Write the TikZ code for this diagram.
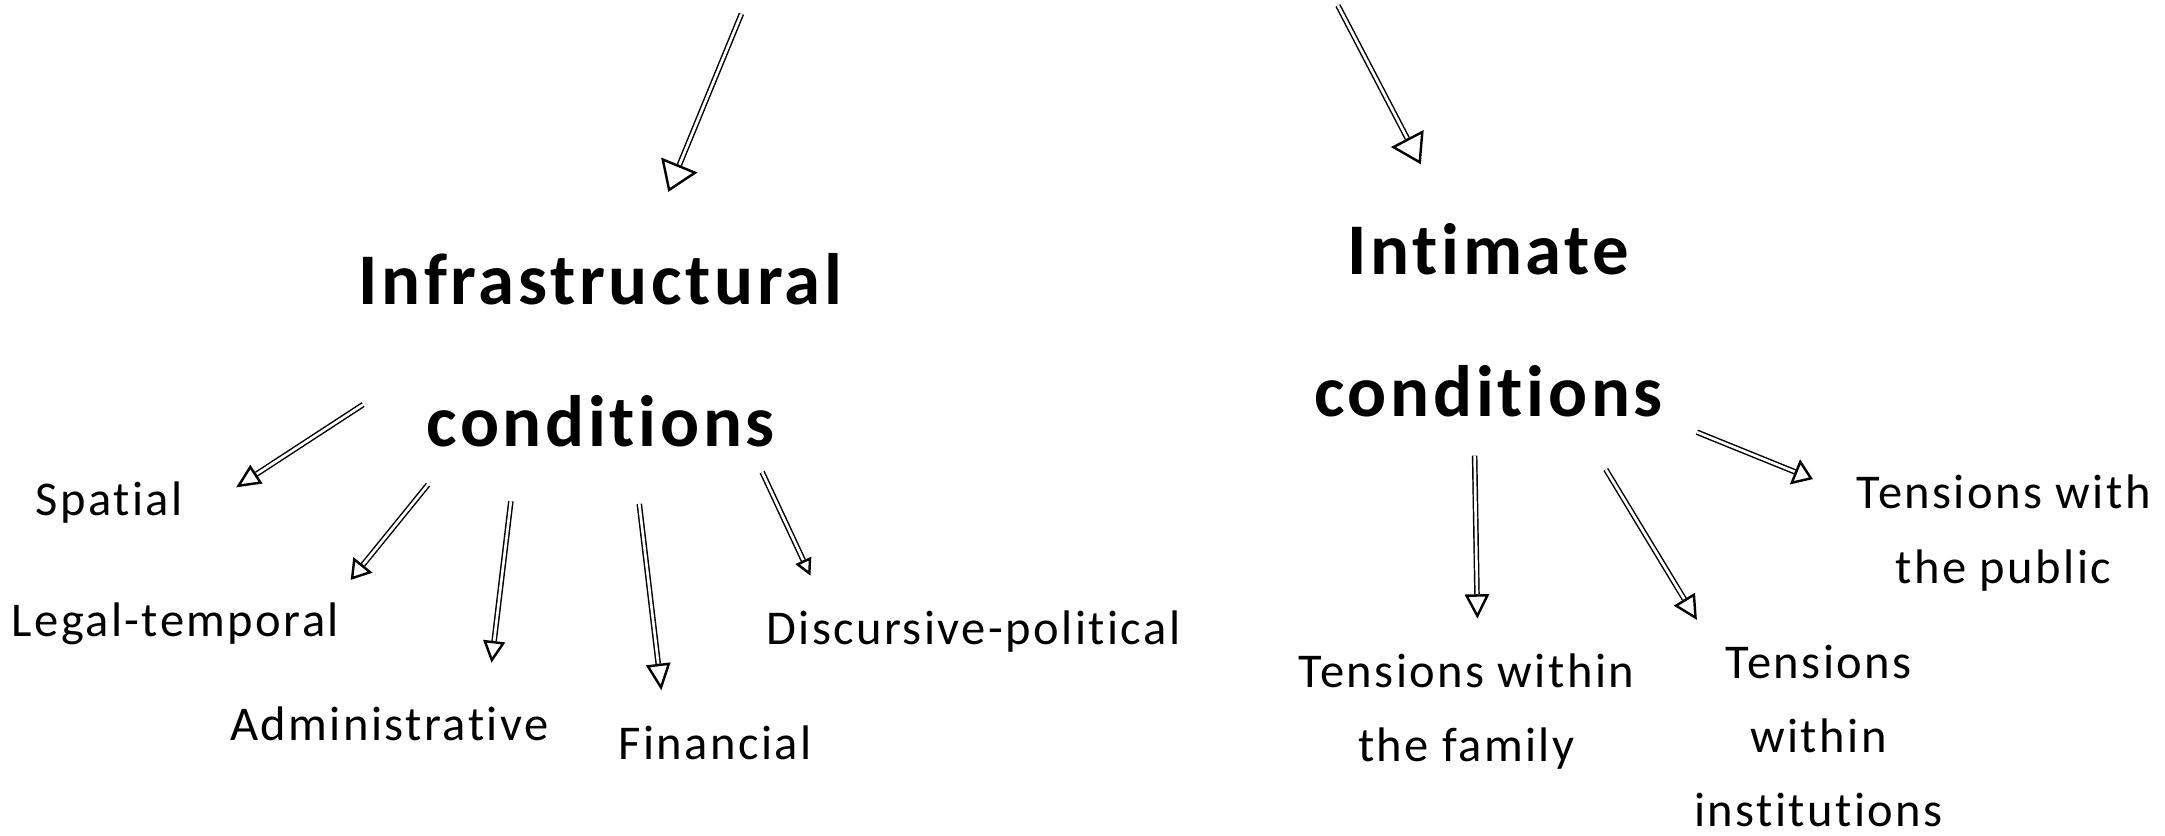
\documentclass[tikz,border=0pt]{standalone}
\usepackage{fontspec}
\setmainfont{Carlito}[LetterSpace=5, Ligatures={NoCommon,NoRequired,NoContextual}]
\usetikzlibrary{arrows.meta,calc}
\newcommand\handarrow[4]{%
  \draw[shaft] (#1) -- ($(#2)!#3!(#1)$);
  \draw[headline, -{Triangle[open, length=#3, width=#4]}] ($(#2)!#3!(#1)$) -- (#2);}
\begin{document}
\begin{tikzpicture}[x=0.1mm,y=-0.1mm,
  big/.style={font=\bfseries\fontsize{15}{29.2}\selectfont, align=center, inner sep=0pt, anchor=base},
  small/.style={font=\fontsize{10}{15.3}\selectfont, align=center, inner sep=0pt, anchor=base},
  shaft/.style={draw=black, line width=0.3pt, double=white, double distance=0.55pt},
  headline/.style={draw=black, line width=0.5pt}]
\useasboundingbox (0,0) rectangle (1568,604.8);

% text nodes (base = baseline of the last line)
\node[big] (infra) at (435,323.5) {Infrastructural\\conditions};
\node[big] (intim) at (1078,301.7) {Intimate\\conditions};
\node[small] (spatial) at (79,373) {Spatial};
\node[small] (legal) at (127,461) {Legal-temporal};
\node[small] (admin) at (282,536) {Administrative};
\node[small] (fin) at (518,550) {Financial};
\node[small] (disc) at (705,467) {Discursive-political};
\node[small] (family) at (1062,551.6) {Tensions within\\the family};
\node[small] (inst) at (1317,598.6) {Tensions\\within\\institutions};
\node[small] (public) at (1451,422.4) {Tensions with\\the public};

% arrow end points
\coordinate (aAs) at (537,10);   \coordinate (aAe) at (484,139);
\coordinate (aBs) at (969,4);    \coordinate (aBe) at (1029,119);
\coordinate (sps) at (263,293);  \coordinate (spe) at (171,353);
\coordinate (lts) at (310,351);  \coordinate (lte) at (254,420);
\coordinate (ads) at (370,363);  \coordinate (ade) at (356,480);
\coordinate (fis) at (463,365);  \coordinate (fie) at (479,500);
\coordinate (dis) at (552,342);  \coordinate (die) at (587,417);
\coordinate (fas) at (1068,330); \coordinate (fae) at (1070,448);
\coordinate (ins) at (1163,340); \coordinate (ine) at (1229,449);
\coordinate (pus) at (1229,313); \coordinate (pue) at (1313,347);

\handarrow{aAs}{aAe}{6pt}{8pt}
\handarrow{aBs}{aBe}{6pt}{7.5pt}
\handarrow{sps}{spe}{5pt}{4.5pt}
\handarrow{lts}{lte}{4pt}{5pt}
\handarrow{ads}{ade}{4.5pt}{4.5pt}
\handarrow{fis}{fie}{5.5pt}{5pt}
\handarrow{dis}{die}{3.5pt}{3.5pt}
\handarrow{fas}{fae}{5pt}{5pt}
\handarrow{ins}{ine}{5pt}{5pt}
\handarrow{pus}{pue}{4pt}{5.5pt}
\end{tikzpicture}
\end{document}
